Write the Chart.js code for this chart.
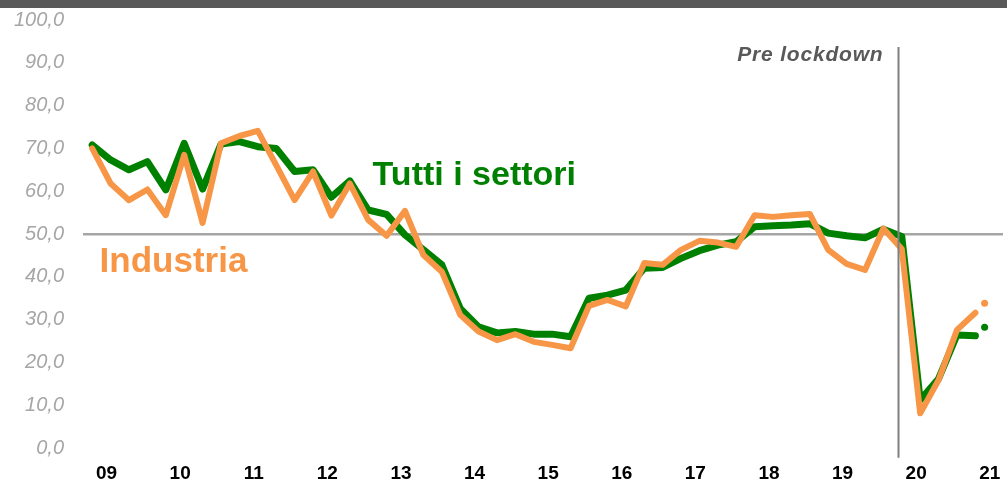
<!DOCTYPE html>
<html><head><meta charset="utf-8">
<script src="https://cdn.jsdelivr.net/npm/chart.js@4.4.1/dist/chart.umd.min.js"></script>
<style>html,body{margin:0;padding:0;background:#fff;overflow:hidden}</style>
</head><body><canvas id="c" width="1007" height="484"></canvas>
<script>
// Quarterly series, 2009 Q1 ... 2021 Q1 (index 0 = 2009 Q1)
const yearLabels = ['09','10','11','12','13','14','15','16','17','18','19','20','21'];
const tuttiSettori = [70.8,67.3,65.0,66.9,60.3,71.2,60.5,71.0,71.6,70.4,70.0,64.6,65.0,58.6,62.4,55.6,54.6,49.8,46.3,42.8,32.6,28.3,26.9,27.2,26.6,26.6,26.0,35.0,35.7,36.9,42.0,42.2,44.3,46.1,47.4,48.2,51.7,51.9,52.1,52.4,50.2,49.6,49.1,51.1,49.4,11.2,16.2,26.4,26.2];
const industria = [70.0,61.8,57.9,60.4,54.4,68.5,52.6,71.2,72.9,74.1,66.1,57.9,64.6,54.3,61.8,53.3,49.6,55.4,45.1,41.2,31.1,27.2,25.2,26.6,24.8,24.1,23.3,33.2,34.6,33.1,43.2,42.8,46.3,48.4,48.0,47.0,54.4,54.0,54.4,54.7,46.3,43.0,41.6,51.3,46.5,8.1,15.9,27.6,31.6];
// latest single readings (shown as dots)
const tuttiLatest = [28.2];
const industriaLatest = [33.8];
const latestPosition = [48.5];
const referenceLevel = 50;
const lockdownPosition = 43.77;

const GREEN = '#008000', ORANGE = '#f79646';
const toPts = arr => arr.map((v, i) => ({x: i, y: v}));

const decor = {
  id: 'decor',
  beforeDraw(chart) {
    const ctx = chart.ctx;
    ctx.save();
    ctx.fillStyle = '#ffffff';
    ctx.fillRect(0, 0, chart.width, chart.height);
    ctx.fillStyle = '#595959';
    ctx.fillRect(0, 0, chart.width, 8);
    ctx.restore();
  },
  afterDatasetsDraw(chart) {
    const ctx = chart.ctx, xs = chart.scales.x, ys = chart.scales.y;
    ctx.save();
    // pre-lockdown vertical line
    const lx = Math.round(xs.getPixelForValue(lockdownPosition)) + 0.5;
    ctx.strokeStyle = '#7f7f7f';
    ctx.lineWidth = 2;
    ctx.beginPath();
    ctx.moveTo(lx, ys.getPixelForValue(93.7));
    ctx.lineTo(lx, ys.getPixelForValue(-2.3));
    ctx.stroke();
    // labels
    ctx.textBaseline = 'alphabetic';
    ctx.font = 'italic bold 21px "Liberation Sans", Arial, sans-serif';
    ctx.fillStyle = '#595959';
    ctx.textAlign = 'right';
    if ('letterSpacing' in ctx) ctx.letterSpacing = '0.8px';
    ctx.fillText('Pre lockdown', xs.getPixelForValue(43.0), ys.getPixelForValue(90.4));
    if ('letterSpacing' in ctx) ctx.letterSpacing = '0px';
    ctx.textAlign = 'left';
    ctx.font = 'bold 34px "Liberation Sans", Arial, sans-serif';
    ctx.fillStyle = GREEN;
    ctx.fillText('Tutti i settori', xs.getPixelForValue(15.24), ys.getPixelForValue(61.4));
    ctx.fillStyle = ORANGE;
    ctx.font = 'bold 35px "Liberation Sans", Arial, sans-serif';
    ctx.fillText('Industria', xs.getPixelForValue(0.4), ys.getPixelForValue(41.1));
    ctx.restore();
  }
};

new Chart(document.getElementById('c'), {
  type: 'line',
  data: {
    datasets: [
      {label: 'Industria', data: toPts(industria), borderColor: ORANGE, borderWidth: 6, pointRadius: 0, borderJoinStyle: 'round', borderCapStyle: 'round', tension: 0},
      {label: 'Tutti i settori', data: toPts(tuttiSettori), borderColor: GREEN, borderWidth: 7, pointRadius: 0, borderJoinStyle: 'round', borderCapStyle: 'round', tension: 0},
      {label: 'Industria ultimo', data: latestPosition.map((x, i) => ({x, y: industriaLatest[i]})), showLine: false, pointRadius: 3.5, pointBackgroundColor: ORANGE, pointBorderWidth: 0},
      {label: 'Tutti ultimo', data: latestPosition.map((x, i) => ({x, y: tuttiLatest[i]})), showLine: false, pointRadius: 3.5, pointBackgroundColor: GREEN, pointBorderWidth: 0}
    ]
  },
  options: {
    responsive: false,
    animation: false,
    devicePixelRatio: 1,
    layout: {padding: {top: 20, right: 4, left: 0, bottom: 0}, autoPadding: false},
    plugins: {legend: {display: false}, tooltip: {enabled: false}},
    scales: {
      x: {
        type: 'linear', min: -0.5, max: 49.5,
        grid: {display: false, drawTicks: false},
        border: {display: false},
        afterBuildTicks(scale) { scale.ticks = yearLabels.map((l, k) => ({value: 4 * k + 0.78})); },
        afterFit(scale) { scale.height = 36; scale.paddingLeft = 0; scale.paddingRight = 0; },
        ticks: {
          autoSkip: false, maxRotation: 0, padding: 14,
          color: '#000000',
          font: {family: '"Liberation Sans", Arial, sans-serif', size: 19, weight: 'bold'},
          callback: (v, i) => yearLabels[i]
        }
      },
      y: {
        min: 0, max: 100,
        grid: {drawTicks: false, lineWidth: 2.5, color: ctx => (ctx.tick && ctx.tick.value === referenceLevel) ? '#a6a6a6' : 'rgba(0,0,0,0)'},
        border: {display: false},
        afterFit(scale) { scale.width = 83; scale.paddingTop = 0; scale.paddingBottom = 0; },
        ticks: {
          stepSize: 10, padding: 19,
          color: '#a6a6a6',
          font: {family: '"Liberation Sans", Arial, sans-serif', size: 20, style: 'italic'},
          callback: v => v.toFixed(1).replace('.', ',')
        }
      }
    }
  },
  plugins: [decor]
});
</script>
</body></html>
